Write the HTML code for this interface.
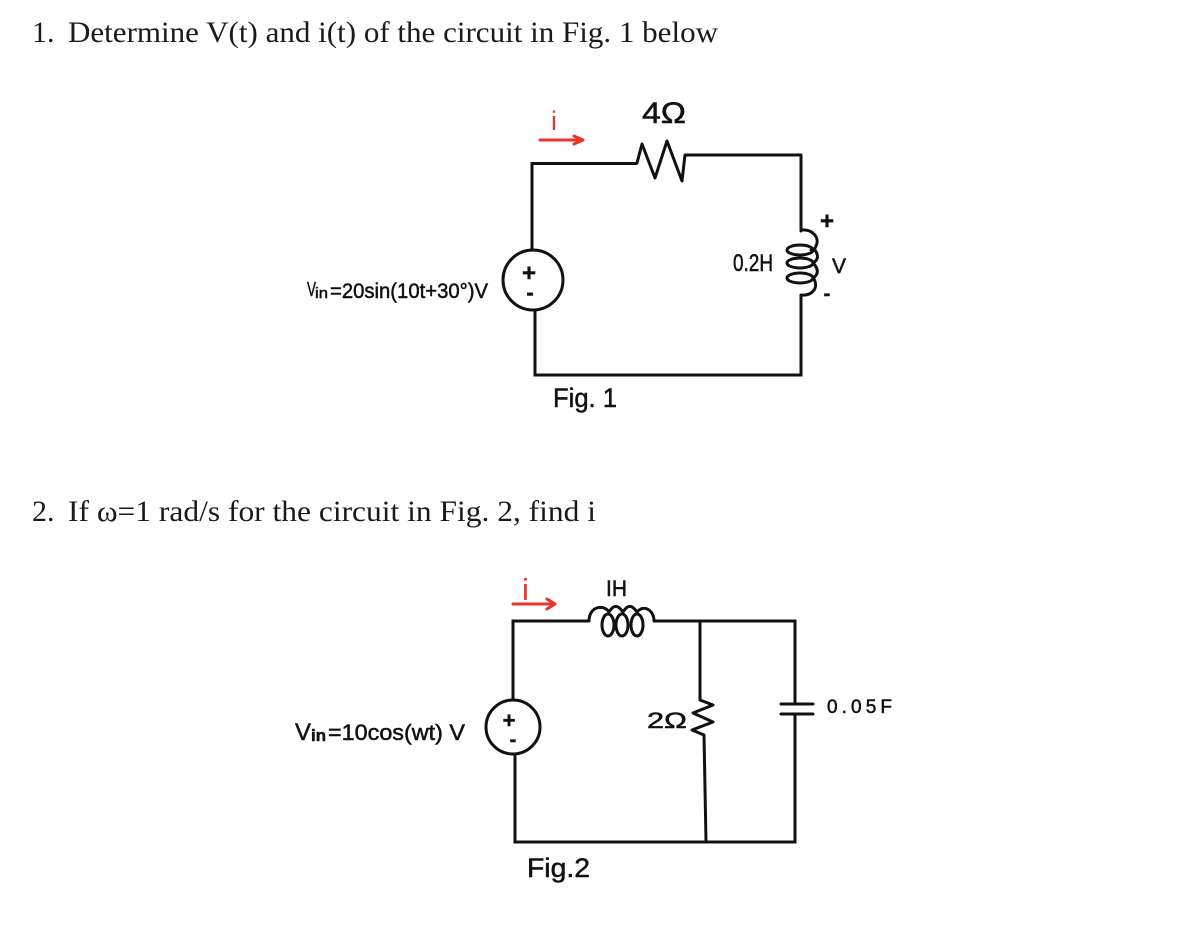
<!DOCTYPE html>
<html><head><meta charset="utf-8"><style>
html,body{margin:0;padding:0;background:#fff;width:1180px;height:940px;overflow:hidden}
svg{display:block}
.h{font-family:"Liberation Serif",serif;font-size:30px;fill:#1a1a1a}
.w{font-family:"Liberation Sans",sans-serif;fill:#111;stroke:#111;stroke-width:.5px}
.l{fill:none;stroke:#111;stroke-width:3;stroke-linejoin:miter}
.c{fill:none;stroke:#111;stroke-width:3;stroke-linecap:round;stroke-linejoin:round}
.r{fill:none;stroke:#e8352c;stroke-width:3;stroke-linecap:round;stroke-linejoin:round}
.d{filter:blur(.35px)}
</style></head><body>
<svg width="1180" height="940" viewBox="0 0 1180 940" xmlns="http://www.w3.org/2000/svg">
<text class="h" x="32" y="42">1.</text>
<text class="h" x="68" y="42" textLength="650" lengthAdjust="spacingAndGlyphs">Determine V(t) and i(t) of the circuit in Fig. 1 below</text>
<text class="h" x="32" y="521">2.</text>
<text class="h" x="68" y="521" textLength="528" lengthAdjust="spacingAndGlyphs">If ω=1 rad/s for the circuit in Fig. 2, find i</text>
<g class="d">
<!-- Fig 1 -->
<path class="l" d="M532 250V163.500H637"/>
<path class="c" d="M637 163L642 144L655 178L667 141L682 181L685 155H801V231"/>
<path class="c" d="M801 230C813 229 820 238 816 246C815 249 813 250 811 250M815 250C819 256 818 260 813 263M814 264C819 270 818 275 813 278M814 279C819 288 812 296 801 295"/>
<ellipse class="c" cx="800" cy="250" rx="13" ry="5"/>
<ellipse class="c" cx="800" cy="263" rx="13" ry="5"/>
<ellipse class="c" cx="800" cy="278" rx="13" ry="5"/>
<path class="l" d="M801 294V375H535V310"/>
<circle class="l" cx="533" cy="280" r="30"/>
<text class="w" x="529" y="281" font-size="24" font-weight="bold" text-anchor="middle">+</text>
<text class="w" x="530" y="300" font-size="22" font-weight="bold" text-anchor="middle">-</text>
<text class="w" x="307" y="296" font-size="20" textLength="9" lengthAdjust="spacingAndGlyphs">V</text>
<text class="w" x="315" y="298" font-size="15" textLength="13" lengthAdjust="spacingAndGlyphs">in</text>
<text class="w" x="330" y="298" font-size="21" textLength="158" lengthAdjust="spacingAndGlyphs">=20sin(10t+30°)V</text>
<text x="551" y="130" font-family="Liberation Sans,sans-serif" font-size="27" fill="#e8352c">i</text>
<path class="r" d="M540 140H582M574 136L583 140L574 144"/>
<text class="w" x="642" y="123" font-size="30" textLength="44" lengthAdjust="spacingAndGlyphs">4Ω</text>
<text class="w" x="733" y="271" font-size="24" textLength="40" lengthAdjust="spacingAndGlyphs">0.2H</text>
<text class="w" x="827" y="229" font-size="24" font-weight="bold" text-anchor="middle">+</text>
<text class="w" x="832" y="273" font-size="21">V</text>
<text class="w" x="827" y="300" font-size="20" font-weight="bold" text-anchor="middle">-</text>
<text class="w" x="553" y="407" font-size="27" textLength="64" lengthAdjust="spacingAndGlyphs">Fig. 1</text>
<!-- Fig 2 -->
<path class="l" d="M513 700V621H589"/>
<path class="c" d="M589 621C589 606 604 604 609 612C614 604 618 605 623 612C628 604 632 605 637 612C644 604 654 610 654 621"/>
<ellipse class="c" cx="608" cy="625" rx="6" ry="11"/>
<ellipse class="c" cx="622" cy="625" rx="6" ry="11"/>
<ellipse class="c" cx="637" cy="625" rx="6" ry="11"/>
<path class="l" d="M654 621H795V704M795 714V842H515V754"/>
<path class="l" d="M700 621V700"/>
<path class="c" d="M700 700L713 705L693 713L713 722L692 730L704 735L706 841"/>
<path class="c" d="M781 704H813M781 714H813"/>
<circle class="l" cx="513" cy="727" r="27"/>
<text class="w" x="509" y="728" font-size="22" font-weight="bold" text-anchor="middle">+</text>
<text class="w" x="513" y="746" font-size="20" font-weight="bold" text-anchor="middle">-</text>
<text class="w" x="295" y="740" font-size="24" textLength="16" lengthAdjust="spacingAndGlyphs">V</text>
<text class="w" x="311" y="741" font-size="17" font-weight="bold" textLength="15" lengthAdjust="spacingAndGlyphs">in</text>
<text class="w" x="328" y="740" font-size="22" textLength="137" lengthAdjust="spacingAndGlyphs">=10cos(wt) V</text>
<text x="522" y="600" font-family="Liberation Sans,sans-serif" font-size="31" fill="#e8352c">i</text>
<path class="r" d="M513 604H555M547 599L555 604L547 609"/>
<text class="w" x="606" y="596" font-size="22" textLength="21" lengthAdjust="spacingAndGlyphs">IH</text>
<text class="w" x="647" y="728" font-size="22" textLength="40" lengthAdjust="spacingAndGlyphs">2Ω</text>
<text class="w" x="827" y="713" font-size="19" textLength="65" lengthAdjust="spacing">0.05F</text>
<text class="w" x="527" y="877" font-size="27" textLength="63" lengthAdjust="spacingAndGlyphs">Fig.2</text>
</g>
</svg>
</body></html>
